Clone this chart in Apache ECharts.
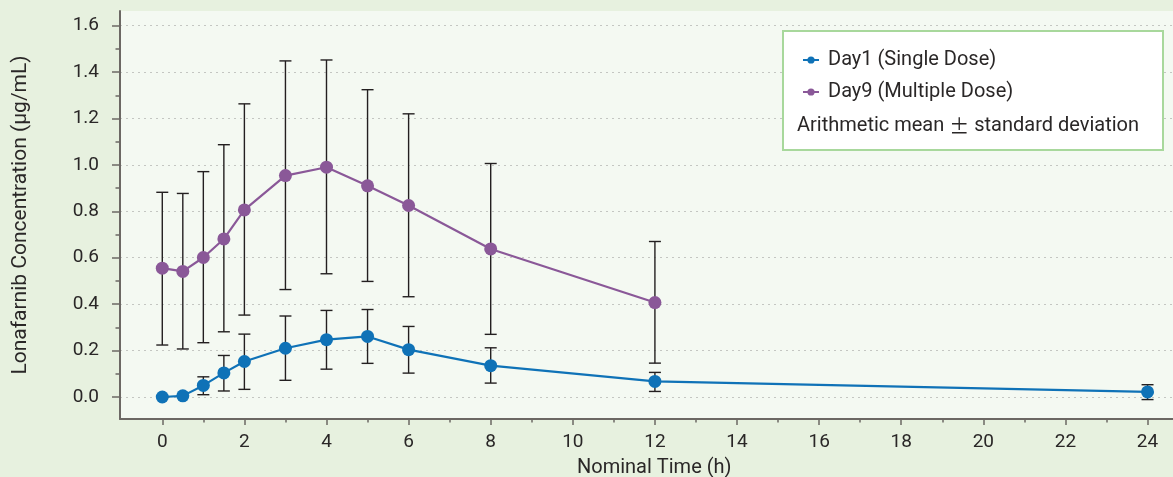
<!DOCTYPE html>
<html>
<head>
<meta charset="utf-8">
<script src="https://cdn.jsdelivr.net/npm/echarts@6/dist/echarts.min.js"></script>
<style>html,body{margin:0;padding:0;background:#e7f1df;}#c{width:1173px;height:477px;}</style>
</head>
<body>
<div id="c"></div>
<script>
// ---- data ----
const times1 = [0, 0.5, 1, 1.5, 2, 3, 4, 5, 6, 8, 12, 24];
const day1Mean = [0.0, 0.005, 0.05, 0.104, 0.153, 0.21, 0.247, 0.261, 0.204, 0.135, 0.067, 0.022];
const day1Low  = [0.0, 0.005, 0.01, 0.026, 0.033, 0.072, 0.12, 0.145, 0.103, 0.06, 0.024, -0.011];
const day1High = [0.0, 0.005, 0.087, 0.179, 0.271, 0.349, 0.373, 0.377, 0.304, 0.212, 0.106, 0.053];

const times9 = [0, 0.5, 1, 1.5, 2, 3, 4, 5, 6, 8, 12];
const day9Mean = [0.555, 0.541, 0.601, 0.681, 0.806, 0.954, 0.990, 0.910, 0.825, 0.638, 0.407];
const day9Low  = [0.224, 0.207, 0.234, 0.281, 0.353, 0.463, 0.531, 0.498, 0.432, 0.270, 0.146];
const day9High = [0.882, 0.877, 0.971, 1.087, 1.263, 1.448, 1.452, 1.324, 1.220, 1.006, 0.670];

const xMajorTicks = [0, 2, 4, 6, 8, 10, 12, 14, 16, 18, 20, 22, 24];
const xMinorTicks = [1, 3, 5, 7, 9, 11, 13, 15, 17, 19, 21, 23];
const yMajorTicks = [0, 0.2, 0.4, 0.6, 0.8, 1.0, 1.2, 1.4, 1.6];
const yMinorTicks = [0.1, 0.3, 0.5, 0.7, 0.9, 1.1, 1.3, 1.5];

const seriesNames = ['Day1 (Single Dose)', 'Day9 (Multiple Dose)'];
const noteParts = ['Arithmetic mean ', '±', ' standard deviation'];
const xName = 'Nominal Time (h)';
const yName = 'Lonafarnib Concentration (μg/mL)';

// ---- styles ----
const FONT = "Roboto, 'Noto Sans CJK JP', sans-serif";
const TXT = '#2a2727';
const BLUE = '#0f72b7';
const PURPLE = '#8a5898';
const AXIS = '#6c6864';
const X_MIN = -1.03, X_MAX = 24.62, Y_MIN = -0.0947, Y_MAX = 1.663;

function errItem(params, api) {
  const x = api.value(0), lo = api.value(1), hi = api.value(2);
  const p1 = api.coord([x, hi]);
  const p2 = api.coord([x, lo]);
  const w = 6;
  const st = { stroke: '#231f20', lineWidth: 1.4 };
  return {
    type: 'group',
    children: [
      { type: 'line', shape: { x1: p1[0], y1: p1[1], x2: p2[0], y2: p2[1] }, style: st },
      { type: 'line', shape: { x1: p1[0] - w, y1: p1[1], x2: p1[0] + w, y2: p1[1] }, style: st },
      { type: 'line', shape: { x1: p2[0] - w, y1: p2[1], x2: p2[0] + w, y2: p2[1] }, style: st }
    ]
  };
}

const chart = echarts.init(document.getElementById('c'), null, { renderer: 'canvas' });
const baseX = { type: 'value', min: X_MIN, max: X_MAX, position: 'bottom' };
const baseY = { type: 'value', min: Y_MIN, max: Y_MAX, position: 'left' };

chart.setOption({
  backgroundColor: '#e7f1df',
  animation: false,
  textStyle: { fontFamily: FONT },
  grid: { left: 120, top: 11, right: 0, bottom: 58, show: true, backgroundColor: '#f4f9f2', borderWidth: 0,
    containLabel: false, outerBoundsMode: 'none' },
  xAxis: [
    Object.assign({}, baseX, {
      axisLine: { show: true, onZero: false, lineStyle: { color: AXIS, width: 2 } },
      axisTick: { show: true, customValues: xMajorTicks, length: 6, lineStyle: { color: AXIS, width: 1.5 } },
      axisLabel: { customValues: xMajorTicks, color: TXT, fontSize: 19, fontFamily: FONT, margin: 14 },
      splitLine: { show: false }
    }),
    Object.assign({}, baseX, {
      axisLine: { show: false, onZero: false },
      axisTick: { show: true, customValues: xMinorTicks, length: 3.5, lineStyle: { color: AXIS, width: 1.5 } },
      axisLabel: { show: false },
      splitLine: { show: false }
    })
  ],
  yAxis: [
    Object.assign({}, baseY, {
      name: yName,
      nameLocation: 'middle',
      nameGap: 89,
      nameRotate: 90,
      nameTextStyle: { color: TXT, fontSize: 21, fontFamily: FONT },
      axisLine: { show: true, onZero: false, lineStyle: { color: AXIS, width: 2 } },
      axisTick: { show: true, customValues: yMajorTicks, length: 8, lineStyle: { color: AXIS, width: 1.5 } },
      axisLabel: { customValues: yMajorTicks, color: TXT, fontSize: 19, fontFamily: FONT, margin: 21,
        formatter: v => Number(v).toFixed(1) },
      splitLine: { show: true, lineStyle: { color: '#c4c6c2', type: [2, 4], width: 1.2 } }
    }),
    Object.assign({}, baseY, {
      axisLine: { show: false, onZero: false },
      axisTick: { show: true, customValues: yMinorTicks, length: 4.5, lineStyle: { color: AXIS, width: 1.5 } },
      axisLabel: { show: false },
      splitLine: { show: false }
    })
  ],
  legend: {
    data: seriesNames,
    orient: 'vertical',
    left: 797,
    top: 45,
    itemWidth: 16,
    itemHeight: 9,
    itemGap: 12,
    textStyle: { color: TXT, fontSize: 20, fontFamily: FONT, padding: [0, 0, 0, 4] },
    selectedMode: false
  },
  graphic: [
    { type: 'rect', left: 782, top: 30, z: 1, shape: { width: 380, height: 119 },
      style: { fill: '#ffffff', stroke: '#a8d89c', lineWidth: 2 } },
    { type: 'text', left: 797, top: 116, z: 2,
      style: {
        text: '{a|' + noteParts[0] + '}{b|' + noteParts[1] + '}{a|' + noteParts[2] + '}',
        rich: {
          a: { fill: TXT, fontSize: 20, fontFamily: FONT },
          b: { fill: TXT, fontSize: 20, fontFamily: "'Noto Sans CJK JP'" }
        }
      } },
    { type: 'text', left: 577, top: 458, z: 2,
      style: { text: xName, fill: TXT, font: "20px " + FONT } }
  ],
  series: [
    { type: 'custom', name: 'err1', renderItem: errItem, z: 1,
      encode: { x: 0, y: [1, 2] },
      data: times1.map((t, i) => [t, day1Low[i], day1High[i]]) },
    { type: 'custom', name: 'err9', renderItem: errItem, z: 1,
      encode: { x: 0, y: [1, 2] },
      data: times9.map((t, i) => [t, day9Low[i], day9High[i]]) },
    { type: 'line', name: seriesNames[0], z: 3, symbol: 'circle', symbolSize: 13,
      itemStyle: { color: BLUE }, lineStyle: { color: BLUE, width: 2.2 },
      data: times1.map((t, i) => [t, day1Mean[i]]) },
    { type: 'line', name: seriesNames[1], z: 3, symbol: 'circle', symbolSize: 13,
      itemStyle: { color: PURPLE }, lineStyle: { color: PURPLE, width: 2.2 },
      data: times9.map((t, i) => [t, day9Mean[i]]) }
  ]
});
</script>
</body>
</html>
